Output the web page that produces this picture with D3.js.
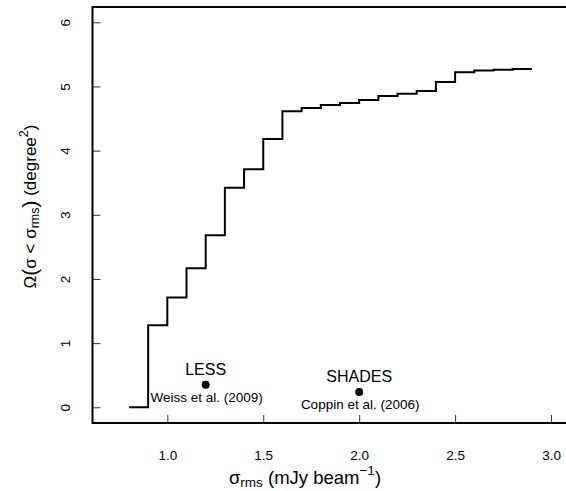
<!DOCTYPE html>
<html>
<head>
<meta charset="utf-8">
<script src="https://cdn.jsdelivr.net/npm/d3@7/dist/d3.min.js"></script>
<style>
  body { margin: 0; background: #fff; }
  svg { display: block; font-family: "Liberation Sans", Arial, Helvetica, sans-serif; }
</style>
</head>
<body>
<svg id="chart" width="566" height="491"></svg>
<script>
// ---- data ----
const sigmaEdges = [0.8, 0.9, 1.0, 1.1, 1.2, 1.3, 1.4, 1.5, 1.6, 1.7, 1.8, 1.9, 2.0, 2.1, 2.2, 2.3, 2.4, 2.5, 2.6, 2.7, 2.8, 2.9];
const areaValues = [0, 1.28, 1.71, 2.165, 2.68, 3.42, 3.71, 4.18, 4.615, 4.665, 4.71, 4.74, 4.79, 4.85, 4.885, 4.93, 5.07, 5.22, 5.25, 5.26, 5.27, 5.27];
const surveyNames = ["LESS", "SHADES"];
const surveyRefs = ["Weiss et al. (2009)", "Coppin et al. (2006)"];
const surveySigma = [1.2, 2.0];
const surveyArea = [0.35, 0.24];
const xTicks = [1.0, 1.5, 2.0, 2.5, 3.0];
const yTicks = [0, 1, 2, 3, 4, 5, 6];

// ---- layout ----
const svg = d3.select("#chart");
const mLeft = 92.5, mRight = 567.5, mTop = 7, mBottom = 423;
const x = d3.scaleLinear().domain([0.61, 3.08]).range([mLeft, mLeft + (3.08 - 0.61) * 191.85]);
const y = d3.scaleLinear().domain([-0.245, 6.238]).range([mBottom, mTop]);

// ticks via axes (inward)
const xAxis = d3.axisBottom(x).tickValues(xTicks).tickSize(-8).tickFormat(d3.format(".1f"));
const gx = svg.append("g").attr("transform", `translate(0,${mBottom})`).call(xAxis);
gx.select(".domain").remove();
gx.selectAll(".tick line").attr("stroke", "#333").attr("stroke-width", 1);
gx.selectAll(".tick text").attr("y", 36.5).attr("dy", null)
  .attr("font-size", 13.5).attr("font-family", "Liberation Sans, Arial, sans-serif").attr("fill", "#000");

const yAxis = d3.axisLeft(y).tickValues(yTicks).tickSize(-8).tickFormat(d3.format("d"));
const gy = svg.append("g").attr("transform", `translate(${mLeft},0)`).call(yAxis);
gy.select(".domain").remove();
gy.selectAll(".tick line").attr("stroke", "#333").attr("stroke-width", 1);
gy.selectAll(".tick text").attr("x", null).attr("dy", null)
  .attr("transform", "translate(-22.5,0) rotate(-90)")
  .attr("text-anchor", "middle")
  .attr("font-size", 13.5).attr("font-family", "Liberation Sans, Arial, sans-serif").attr("fill", "#000");

// frame
svg.append("rect")
  .attr("x", mLeft).attr("y", mTop)
  .attr("width", mRight - mLeft + 10).attr("height", mBottom - mTop)
  .attr("fill", "none").attr("stroke", "#000").attr("stroke-width", 2);

// step curve
const pts = sigmaEdges.map((s, i) => [s, areaValues[i]]);
svg.append("path")
  .datum(pts)
  .attr("fill", "none")
  .attr("stroke", "#000")
  .attr("stroke-width", 2)
  .attr("stroke-linejoin", "miter")
  .attr("d", d3.line().x(d => x(d[0])).y(d => y(d[1])).curve(d3.curveStepAfter));

// survey points
surveyNames.forEach((name, i) => {
  const cx = x(surveySigma[i]), cy = y(surveyArea[i]);
  svg.append("circle").attr("cx", cx).attr("cy", cy).attr("r", 4).attr("fill", "#000");
  svg.append("text").attr("x", cx).attr("y", cy - 10).attr("text-anchor", "middle")
    .attr("font-size", 16).text(name);
  svg.append("text").attr("x", cx + 1).attr("y", cy + 17.5).attr("text-anchor", "middle")
    .attr("font-size", 13.5).text(surveyRefs[i]);
});

// x title
const xt = svg.append("text").attr("x", 305).attr("y", 483.5).attr("text-anchor", "middle").attr("font-size", 18.5);
xt.append("tspan").text("σ");
xt.append("tspan").attr("font-size", 13.5).attr("dy", 3).text("rms");
xt.append("tspan").attr("dy", -3).text(" (mJy beam");
xt.append("tspan").attr("font-size", 13.5).attr("dy", -9).text("−1");
xt.append("tspan").attr("dy", 9).text(")");

// y title
const yt = svg.append("text").attr("transform", "translate(36,206.5) rotate(-90)")
  .attr("text-anchor", "middle").attr("font-size", 17);
yt.append("tspan").text("Ω");
yt.append("tspan").attr("font-size", 21).attr("dy", 1).text("(");
yt.append("tspan").attr("dy", -1).text("σ < σ");
yt.append("tspan").attr("font-size", 12.5).attr("dy", 3).text("rms");
yt.append("tspan").attr("font-size", 21).attr("dy", -2).text(")");
yt.append("tspan").attr("dy", -1).text(" (degree");
yt.append("tspan").attr("font-size", 12.5).attr("dy", -8).text("2");
yt.append("tspan").attr("dy", 8).text(")");
</script>
</body>
</html>
